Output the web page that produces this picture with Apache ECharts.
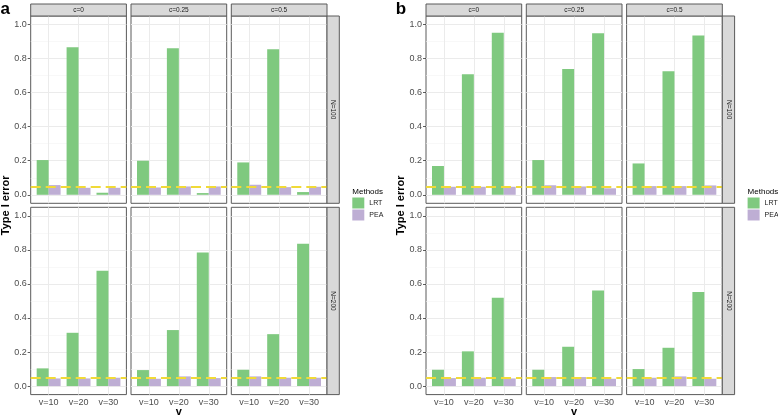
<!DOCTYPE html>
<html><head><meta charset="utf-8">
<script src="https://cdn.jsdelivr.net/npm/echarts@6/dist/echarts.min.js"></script>
<style>html,body{margin:0;padding:0;background:#fff}#c{width:778px;height:417px}</style>
</head><body><div id="c"></div>
<script>
// ---------------- data ----------------
const vLabels = ['v=10', 'v=20', 'v=30'];
const cLabels = ['c=0', 'c=0.25', 'c=0.5'];
const nLabels = ['N=100', 'N=200'];
const methods = ['LRT', 'PEA'];
const yTicks = [0, 0.2, 0.4, 0.6, 0.8, 1.0];
const alphaLevel = 0.05;

// panel a : rows per c (c=0, c=0.25, c=0.5), values per v
const aLRT_N100 = [[0.204, 0.867, 0.012], [0.200, 0.861, 0.010], [0.190, 0.855, 0.016]];
const aPEA_N100 = [[0.057, 0.041, 0.041], [0.043, 0.049, 0.049], [0.059, 0.045, 0.047]];
const aLRT_N200 = [[0.104, 0.313, 0.677], [0.094, 0.329, 0.785], [0.096, 0.305, 0.836]];
const aPEA_N200 = [[0.045, 0.045, 0.049], [0.043, 0.057, 0.047], [0.057, 0.049, 0.049]];

// panel b
const bLRT_N100 = [[0.169, 0.708, 0.951], [0.204, 0.739, 0.949], [0.184, 0.725, 0.935]];
const bPEA_N100 = [[0.047, 0.047, 0.047], [0.056, 0.049, 0.038], [0.051, 0.051, 0.055]];
const bLRT_N200 = [[0.096, 0.204, 0.519], [0.096, 0.231, 0.562], [0.100, 0.225, 0.552]];
const bPEA_N200 = [[0.047, 0.049, 0.045], [0.053, 0.053, 0.043], [0.049, 0.057, 0.043]];

const panels = [
  { tag: 'a', LRT: [aLRT_N100, aLRT_N200], PEA: [aPEA_N100, aPEA_N200] },
  { tag: 'b', LRT: [bLRT_N100, bLRT_N200], PEA: [bPEA_N100, bPEA_N200] }
];

// ---------------- styles / layout ----------------
const colors = { LRT: '#7fc97f', PEA: '#beaed4' };
const FONT = 'Liberation Sans, Arial, sans-serif';
const PW = 95.7, GAP = 4.6, PH = 187.3;
const panelLeft = [30.7, 426];
const rowTop = [16, 207.3];
const STRIP = 12.3;
const XMIN = 0.4, XMAX = 3.6;
const barW = PW / (XMAX - XMIN) * 0.4;
const minorTicks = [0.1, 0.3, 0.5, 0.7, 0.9];

const grids = [], xAxes = [], yAxes = [], series = [], graphics = [];
let gi = 0;
panels.forEach((P, p) => {
  for (let r = 0; r < 2; r++) {
    for (let c = 0; c < 3; c++) {
      const left = panelLeft[p] + c * (PW + GAP);
      const top = rowTop[r];
      grids.push({ left: left, top: top, width: PW, height: PH, show: true,
        backgroundColor: '#fff', borderColor: '#5a5a5a', borderWidth: 1 });
      const xs = vLabels.map((_, k) => k + 1);
      xAxes.push({ type: 'value', gridIndex: gi, min: XMIN, max: XMAX,
        splitLine: { show: false }, axisLine: { show: false },
        axisTick: { show: r === 1, customValues: xs, length: 3, lineStyle: { color: '#333', width: 0.8 } },
        axisLabel: { show: r === 1, customValues: xs, margin: 3,
          formatter: v => vLabels[Math.round(v) - 1] || '', fontSize: 9, color: '#4d4d4d', fontFamily: FONT } });
      yAxes.push({ type: 'value', gridIndex: gi, min: -0.05, max: 1.05,
        splitLine: { show: false }, axisLine: { show: false },
        axisTick: { show: c === 0, customValues: yTicks, length: 3, lineStyle: { color: '#333', width: 0.8 } },
        axisLabel: { show: c === 0, customValues: yTicks, margin: 4,
          formatter: v => v.toFixed(1), fontSize: 9, color: '#4d4d4d', fontFamily: FONT } });
      // gridlines
      const gl = [];
      yTicks.forEach(t => gl.push({ yAxis: t, lineStyle: { color: '#ebebeb', width: 1, type: 'solid' } }));
      minorTicks.forEach(t => gl.push({ yAxis: t, lineStyle: { color: '#f3f3f3', width: 0.6, type: 'solid' } }));
      xs.forEach(t => gl.push({ xAxis: t, lineStyle: { color: '#ebebeb', width: 1, type: 'solid' } }));
      series.push({ type: 'line', xAxisIndex: gi, yAxisIndex: gi, data: [], silent: true,
        markLine: { silent: true, z: 1, symbol: ['none', 'none'], animation: false,
          label: { show: false }, emphasis: { disabled: true },
          lineStyle: { type: 'solid' }, data: gl } });
      methods.forEach((m, mi) => {
        const vals = P[m][r][c];
        const s = { type: 'bar', name: m, xAxisIndex: gi, yAxisIndex: gi,
          data: vals.map((v, k) => [k + 1, v]), barWidth: barW, barGap: '0%',
          itemStyle: { color: colors[m] }, emphasis: { disabled: true }, z: 2 };
        if (mi === 1) {
          s.markLine = { silent: true, symbol: ['none', 'none'], animation: false,
            label: { show: false }, emphasis: { disabled: true },
            lineStyle: { color: '#f0da38', width: 2, type: [10, 5] },
            data: [{ yAxis: alphaLevel }] };
        }
        series.push(s);
      });
      // top strip
      if (r === 0) {
        graphics.push({ type: 'rect', shape: { x: left, y: top - STRIP + 0.3, width: PW, height: STRIP - 0.3 },
          style: { fill: '#d9d9d9', stroke: '#5a5a5a', lineWidth: 1 }, z: 10 });
        graphics.push({ type: 'text', x: left + PW / 2, y: top - STRIP / 2,
          style: { text: cLabels[c], fontSize: 6.5, fill: '#1a1a1a', align: 'center', verticalAlign: 'middle', fontFamily: FONT }, z: 11 });
      }
      // right strip
      if (c === 2) {
        const sx = left + PW;
        graphics.push({ type: 'rect', shape: { x: sx, y: top, width: STRIP, height: PH },
          style: { fill: '#d9d9d9', stroke: '#5a5a5a', lineWidth: 1 }, z: 10 });
        graphics.push({ type: 'text', x: sx + STRIP / 2, y: top + PH / 2, rotation: -Math.PI / 2,
          style: { text: nLabels[r], fontSize: 6.5, fill: '#1a1a1a', align: 'center', verticalAlign: 'middle', fontFamily: FONT }, z: 11 });
      }
      gi++;
    }
  }
  const pl = panelLeft[p];
  const pr = pl + 3 * PW + 2 * GAP;
  // panel tag
  graphics.push({ type: 'text', x: pl - 30.2, y: 1,
    style: { text: P.tag, fontSize: 17, fontWeight: 'bold', fill: '#000', align: 'left', verticalAlign: 'top', fontFamily: FONT } });
  // y title
  graphics.push({ type: 'text', x: pl - 25, y: (rowTop[0] + rowTop[1] + PH) / 2, rotation: Math.PI / 2,
    style: { text: 'Type I error', fontSize: 11, fontWeight: 'bold', fill: '#000', align: 'center', verticalAlign: 'middle', fontFamily: FONT } });
  // x title
  graphics.push({ type: 'text', x: (pl + pr) / 2, y: 412,
    style: { text: 'v', fontSize: 11, fontWeight: 'bold', fill: '#000', align: 'center', verticalAlign: 'middle', fontFamily: FONT } });
  // legend title
  graphics.push({ type: 'text', x: pr + STRIP + 13, y: 192,
    style: { text: 'Methods', fontSize: 8, fill: '#000', align: 'left', verticalAlign: 'middle', fontFamily: FONT } });
});

const legends = panels.map((P, p) => ({
  left: panelLeft[p] + 3 * PW + 2 * GAP + STRIP + 13, top: 197.5, orient: 'vertical', padding: 0,
  itemWidth: 12, itemHeight: 11, itemGap: 1, icon: 'rect', selectedMode: false,
  data: methods, textStyle: { fontSize: 7, color: '#1a1a1a', fontFamily: FONT }
}));

const option = {
  animation: false,
  backgroundColor: '#fff',
  grid: grids, xAxis: xAxes, yAxis: yAxes, series: series,
  legend: legends,
  graphic: graphics
};
const chart = echarts.init(document.getElementById('c'));
chart.setOption(option);
</script></body></html>
